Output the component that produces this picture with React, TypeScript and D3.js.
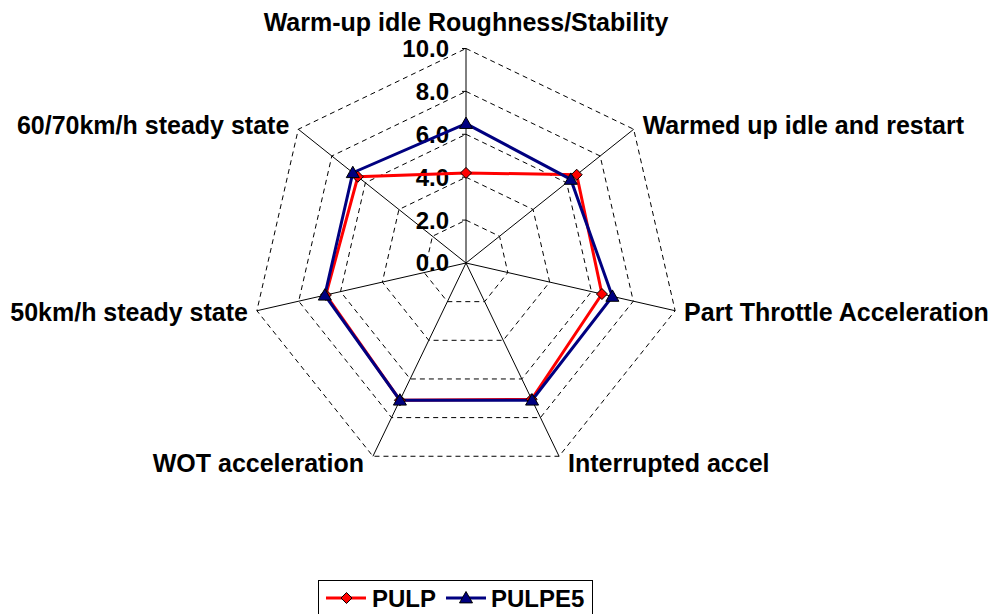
import React from "react";
import * as d3 from "d3";

const categories = [
  "Warm-up idle Roughness/Stability",
  "Warmed up idle and restart",
  "Part Throttle Acceleration",
  "Interrupted accel",
  "WOT acceleration",
  "50km/h steady state",
  "60/70km/h steady state",
];
const pulp = [4.2, 6.6, 6.5, 7.05, 7.1, 6.7, 6.45];
const pulpe5 = [6.5, 6.25, 7.0, 7.1, 7.1, 6.75, 6.75];
const ticks = [0, 2, 4, 6, 8, 10];
const seriesNames = ["PULP", "PULPE5"];

export default function App() {
  const W = 996, H = 614;
  const cx = 466, cy = 263, R = 214.5;
  const n = categories.length;
  const r = d3.scaleLinear().domain([0, 10]).range([0, R]);
  const ang = (i: number) => (i * 2 * Math.PI) / n;
  const pt = (i: number, v: number): [number, number] => [
    cx + r(v) * Math.sin(ang(i)),
    cy - r(v) * Math.cos(ang(i)),
  ];
  const line = d3.line<[number, number]>().curve(d3.curveLinearClosed);
  const font = "'Liberation Sans', Arial, sans-serif";
  const series = [
    { name: seriesNames[0], data: pulp, color: "#FF0000", marker: "diamond" },
    { name: seriesNames[1], data: pulpe5, color: "#000080", marker: "triangle" },
  ];
  const marker = (type: string, x: number, y: number, color: string, key: string) => {
    if (type === "diamond") {
      const s = 5.5;
      return (
        <path key={key} d={`M${x},${y - s}L${x + s},${y}L${x},${y + s}L${x - s},${y}Z`} fill={color} stroke="#000" strokeWidth={1} />
      );
    }
    const s = 6.5;
    return (
      <path key={key} d={`M${x},${y - s}L${x + s},${y + s * 0.75}L${x - s},${y + s * 0.75}Z`} fill={color} stroke="#000" strokeWidth={1} />
    );
  };
  const ly = 598;
  return (
    <svg width={W} height={H} style={{ position: "absolute", left: 0, top: 0 }}>
      <rect width={W} height={H} fill="#fff" />
      {ticks.slice(1).map((t) => (
        <path key={t} d={line(categories.map((_, i) => pt(i, t)))!} fill="none" stroke="#000" strokeWidth={1} strokeDasharray="5,4" />
      ))}
      {categories.map((_, i) => {
        const [x, y] = pt(i, 10);
        return <line key={i} x1={cx} y1={cy} x2={x} y2={y} stroke="#000" strokeWidth={1} />;
      })}
      {ticks.slice(1).map((t) => {
        const [x, y] = pt(0, t);
        return <line key={"tk" + t} x1={x - 4} x2={x} y1={y} y2={y} stroke="#000" strokeWidth={1} />;
      })}
      {ticks.map((t) => {
        const [x, y] = pt(0, t);
        return (
          <text key={"tl" + t} x={x - 17} y={y} dy="0.35em" textAnchor="end" fontFamily={font} fontWeight="bold" fontSize={24} fill="#000">
            {t.toFixed(1)}
          </text>
        );
      })}
      {categories.map((c, i) => {
        const [x, y] = pt(i, 10);
        const s = Math.sin(ang(i));
        const co = Math.cos(ang(i));
        let anchor = "middle";
        let lx = x, lyy = y;
        if (Math.abs(s) < 0.01) { lyy = y - 26; }
        else {
          anchor = s > 0 ? "start" : "end";
          lx = x + (s > 0 ? 9 : -9);
          lyy = y + (co < -0.5 ? 7 : co > 0.5 ? -4 : 2);
        }
        return (
          <text key={c} x={lx} y={lyy} dy="0.35em" textAnchor={anchor} fontFamily={font} fontWeight="bold" fontSize={25} fill="#000">
            {c}
          </text>
        );
      })}
      {series.map((s) => (
        <path key={s.name} d={line(s.data.map((v, i) => pt(i, v)))!} fill="none" stroke={s.color} strokeWidth={3} />
      ))}
      {series.map((s) => s.data.map((v, i) => {
        const [x, y] = pt(i, v);
        return marker(s.marker, x, y, s.color, s.name + i);
      }))}
      <g>
        <rect x={318.5} y={580.5} width={274} height={40} fill="#fff" stroke="#000" strokeWidth={1} />
        <line x1={326} x2={366} y1={ly} y2={ly} stroke="#FF0000" strokeWidth={3} />
        {marker("diamond", 346.5, ly, "#FF0000", "lg1")}
        <text x={372} y={ly + 1} dy="0.35em" fontFamily={font} fontWeight="bold" fontSize={24}>{seriesNames[0]}</text>
        <line x1={446} x2={486} y1={ly} y2={ly} stroke="#000080" strokeWidth={3} />
        {marker("triangle", 466, ly, "#000080", "lg2")}
        <text x={491} y={ly + 1} dy="0.35em" fontFamily={font} fontWeight="bold" fontSize={24}>{seriesNames[1]}</text>
      </g>
    </svg>
  );
}
